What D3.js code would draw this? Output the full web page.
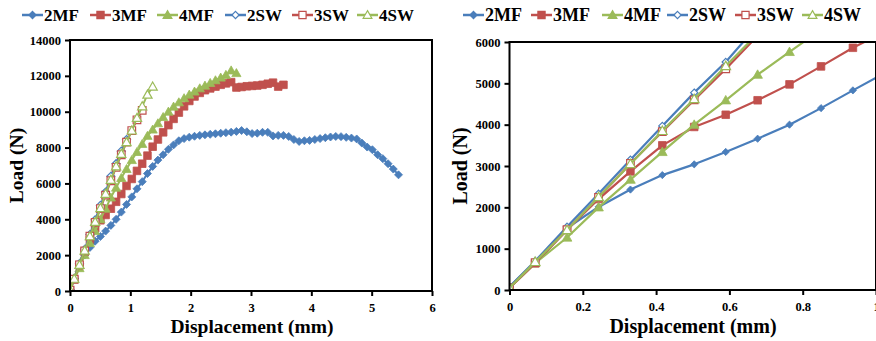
<!DOCTYPE html>
<html><head><meta charset="utf-8">
<script src="https://cdn.jsdelivr.net/npm/d3@7"></script>
<style>
html,body{margin:0;padding:0;background:#fff;overflow:hidden}
text{font-family:"Liberation Serif","Times New Roman",serif;font-weight:bold;fill:#000}
</style></head>
<body>
<svg id="c" width="876" height="341"></svg>
<script>
// ---------- data ----------
const displacement = [0, 0.070, 0.157, 0.243, 0.330, 0.417, 0.504, 0.590, 0.677, 0.764,
  0.850, 0.937, 1.024, 1.110, 1.197, 1.284, 1.370, 1.457, 1.544, 1.631,
  1.717, 1.804, 1.891, 1.977, 2.064, 2.151, 2.237, 2.324, 2.411, 2.498,
  2.584, 2.671, 2.758, 2.844, 2.931, 3.018, 3.104, 3.191, 3.278, 3.365,
  3.451, 3.538, 3.625, 3.711, 3.798, 3.885, 3.971, 4.058, 4.145, 4.232,
  4.318, 4.405, 4.492, 4.578, 4.665, 4.752, 4.838, 4.925, 5.012, 5.099,
  5.185, 5.272, 5.359, 5.445];
const load2MF = [80, 680, 1500, 2010, 2430, 2780, 3040, 3340, 3660, 4000,
  4400, 4830, 5250, 5700, 6100, 6550, 6950, 7300, 7600, 7900,
  8150, 8380, 8500, 8580, 8630, 8680, 8710, 8740, 8770, 8800,
  8830, 8860, 8900, 8950, 8880, 8780, 8800, 8850, 8850, 8650,
  8680, 8680, 8620, 8450, 8340, 8380, 8400, 8450, 8500, 8550,
  8590, 8620, 8610, 8570, 8530, 8480, 8250, 8030, 7880, 7600,
  7380, 7100, 6800, 6480];
const load3MF = [50, 645, 1450, 2200, 2870, 3500, 3945, 4240, 4590, 4975,
  5410, 5860, 6250, 6700, 7100, 7550, 8050, 8450, 8850, 9250,
  9600, 9950, 10300, 10600, 10850, 11050, 11200, 11300, 11400, 11500,
  11580, 11650, 11350, 11380, 11420, 11440, 11460, 11500, 11560, 11620,
  11400, 11500];
const load4MF = [50, 650, 1270, 2000, 2670, 3340, 4000, 4590, 5210, 5760,
  6300, 6800, 7300, 7750, 8200, 8650, 9000, 9350, 9700, 10000,
  10280, 10520, 10750, 10950, 11120, 11300, 11450, 11600, 11750, 11900,
  12050, 12300, 12150];
const load2SW = [80, 700, 1530, 2330, 3150, 3970, 4775, 5515, 6400, 7100, 7800, 8450];
const load3SW = [50, 660, 1460, 2240, 3060, 3830, 4600, 5350, 6150, 6900, 7600, 8300, 8950, 9550, 10080];
const load4SW = [50, 680, 1450, 2250, 3050, 3850, 4620, 5420, 6200, 6950, 7650, 8300, 8950, 9650, 10300, 10950, 11400];

const seriesNames = ["2MF", "3MF", "4MF", "2SW", "3SW", "4SW"];
const seriesLoads = [load2MF, load3MF, load4MF, load2SW, load3SW, load4SW];
const seriesColors = ["#4a7ebb", "#c0504d", "#9bbb59", "#4a7ebb", "#c0504d", "#9bbb59"];
const seriesMarkers = ["diamond", "square", "triangle", "diamond", "square", "triangle"];
const seriesFilled = [true, true, true, false, false, false];

const leftXTicks = [0, 1, 2, 3, 4, 5, 6];
const leftYTicks = [0, 2000, 4000, 6000, 8000, 10000, 12000, 14000];
const rightXTicks = [0, 0.2, 0.4, 0.6, 0.8, 1];
const rightYTicks = [0, 1000, 2000, 3000, 4000, 5000, 6000];
const xTitle = "Displacement (mm)";
const yTitle = "Load (N)";

// ---------- drawing ----------
const svg = d3.select("#c");

function markerPath(type, r) {
  const p = d3.path();
  if (type === "diamond") {
    p.moveTo(0, -r); p.lineTo(r, 0); p.lineTo(0, r); p.lineTo(-r, 0); p.closePath();
  } else if (type === "square") {
    p.rect(-r, -r, 2 * r, 2 * r);
  } else {
    const h = r * 1.15;
    p.moveTo(0, -h); p.lineTo(h, h * 0.75); p.lineTo(-h, h * 0.75); p.closePath();
  }
  return p.toString();
}

function panel(cfg) {
  const g = svg.append("g");
  const x = d3.scaleLinear().domain(cfg.xDomain).range([cfg.x0, cfg.x1]);
  const y = d3.scaleLinear().domain(cfg.yDomain).range([cfg.y1, cfg.y0]);
  const clipId = "clip" + cfg.id;
  svg.append("clipPath").attr("id", clipId).append("rect")
    .attr("x", cfg.x0).attr("y", cfg.y0).attr("width", cfg.x1 - cfg.x0).attr("height", cfg.y1 - cfg.y0);

  const data = g.append("g").attr("clip-path", `url(#${clipId})`);
  const line = d3.line().x(d => x(d[0])).y(d => y(d[1]));
  seriesLoads.forEach((loads, i) => {
    const pts = loads.map((v, k) => [displacement[k], v]);
    data.append("path").attr("d", line(pts)).attr("fill", "none")
      .attr("stroke", seriesColors[i]).attr("stroke-width", cfg.lw).attr("stroke-linejoin", "round");
    const r = cfg.mr[seriesMarkers[i]];
    data.selectAll(null).data(pts).enter().append("path")
      .attr("transform", d => `translate(${x(d[0])},${y(d[1])})`)
      .attr("d", markerPath(seriesMarkers[i], r))
      .attr("fill", seriesFilled[i] ? seriesColors[i] : "#fff")
      .attr("stroke", seriesColors[i]).attr("stroke-width", seriesFilled[i] ? 0.8 : 1.2);
  });

  // frame
  g.append("rect").attr("x", cfg.x0).attr("y", cfg.y0)
    .attr("width", cfg.x1 - cfg.x0).attr("height", cfg.y1 - cfg.y0)
    .attr("fill", "none").attr("stroke", "#000").attr("stroke-width", 2);

  const ax = g.append("g").attr("transform", `translate(0,${cfg.y1})`)
    .call(d3.axisBottom(x).tickValues(cfg.xTicks).tickFormat(d => String(d)).tickSize(5).tickSizeOuter(0).tickPadding(7));
  const ay = g.append("g").attr("transform", `translate(${cfg.x0},0)`)
    .call(d3.axisLeft(y).tickValues(cfg.yTicks).tickFormat(d => String(d)).tickSize(5).tickSizeOuter(0).tickPadding(4));
  [ax, ay].forEach(a => {
    a.select(".domain").remove();
    a.selectAll(".tick line").attr("stroke", "#000").attr("stroke-width", 2);
    a.selectAll(".tick text").style("font-family", '"Liberation Serif",serif')
      .style("font-weight", "bold").style("font-size", cfg.tickFs + "px").attr("fill", "#000");
  });

  g.append("text").attr("x", cfg.xTitleX).attr("y", 333).attr("text-anchor", "middle")
    .style("font-size", cfg.titleFs + "px").text(xTitle);
  g.append("text").attr("transform", `translate(${cfg.yTitleX},${(cfg.y0 + cfg.y1) / 2}) rotate(-90)`)
    .attr("text-anchor", "middle").attr("dy", "0.35em")
    .style("font-size", cfg.titleFs + "px").text(yTitle);

  // legend
  const lg = g.append("g");
  seriesNames.forEach((name, i) => {
    const sx = cfg.legendX[i];
    const item = lg.append("g").attr("transform", `translate(${sx},15)`);
    item.append("line").attr("x1", 0).attr("x2", cfg.legLen).attr("y1", 0).attr("y2", 0)
      .attr("stroke", seriesColors[i]).attr("stroke-width", 2.5);
    item.append("path").attr("transform", `translate(${cfg.legLen / 2},0)`)
      .attr("d", markerPath(seriesMarkers[i], cfg.legMr[seriesMarkers[i]]))
      .attr("fill", seriesFilled[i] ? seriesColors[i] : "#fff")
      .attr("stroke", seriesColors[i]).attr("stroke-width", 1.2);
    item.append("text").attr("x", cfg.legLen + 1).attr("y", 0).attr("dy", "0.35em")
      .style("font-size", cfg.legFs + "px").text(name);
  });
}

panel({
  id: "L", x0: 70, x1: 432, y0: 40, y1: 291, xDomain: [0, 6], yDomain: [0, 14000],
  xTicks: leftXTicks, yTicks: leftYTicks, lw: 2,
  mr: {diamond: 4, square: 3.8, triangle: 4},
  tickFs: 12.5, titleFs: 19.5, xTitleX: 252, yTitleX: 16,
  legendX: [22, 90, 157, 225, 292, 357], legLen: 21, legFs: 17,
  legMr: {diamond: 3.6, square: 3.6, triangle: 3.8}
});
panel({
  id: "R", x0: 509.5, x1: 876, y0: 42, y1: 290, xDomain: [0, 1], yDomain: [0, 6000],
  xTicks: rightXTicks, yTicks: rightYTicks, lw: 2.2,
  mr: {diamond: 3.6, square: 3.8, triangle: 4.2},
  tickFs: 12.5, titleFs: 20, xTitleX: 693, yTitleX: 460,
  legendX: [463, 531, 602, 667, 735, 802], legLen: 21, legFs: 18,
  legMr: {diamond: 3.6, square: 3.6, triangle: 3.8}
});
</script>
</body></html>
